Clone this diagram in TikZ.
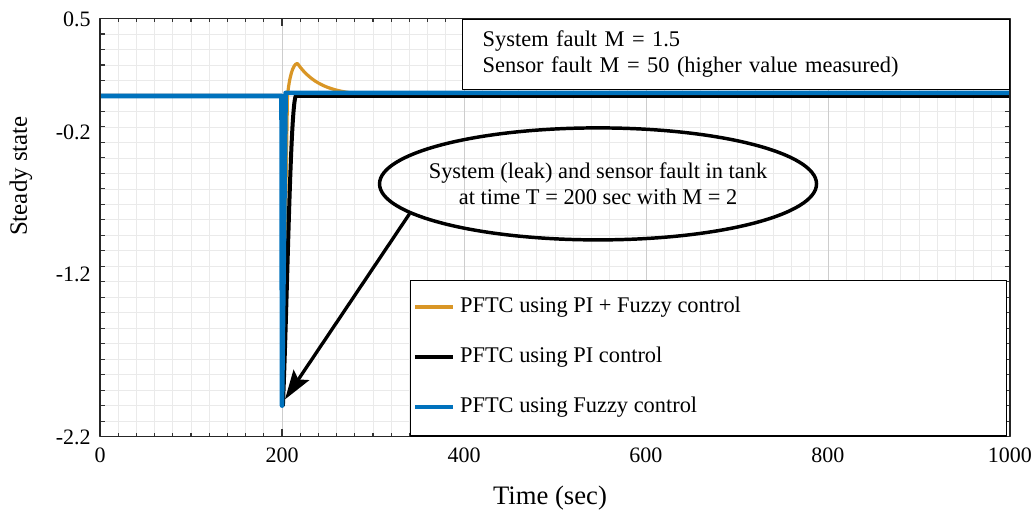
\documentclass[tikz,border=0pt]{standalone}
\usepackage{fontspec}
\setmainfont{Liberation Serif}
\usetikzlibrary{arrows.meta,shapes.geometric}
\definecolor{pforange}{RGB}{217,150,38}
\definecolor{pfblue}{RGB}{0,114,189}
\definecolor{minorgrid}{RGB}{234,234,234}
\definecolor{majorgrid}{RGB}{205,205,205}

\tikzset{
  ticklab/.style={font=\fontsize{16.5}{19}\selectfont,inner sep=0pt},
  notetext/.style={font=\fontsize{16.8}{19.5}\selectfont},
  legtext/.style={font=\fontsize{16.8}{19.5}\selectfont,text=black,anchor=west,inner xsep=4pt},
  frame/.style={line width=1.1pt,black!85},
  tick/.style={line width=0.8pt,black!80}
}

\begin{document}
\begin{tikzpicture}[x=0.6825pt,y=116.1pt,line join=round]
  \useasboundingbox (-109.9,-2.733) rectangle (1026.4,0.620);
  \draw[minorgrid,line width=0.5pt,xstep=20,ystep=0.1] (0,-2.2) grid (1000,0.5);
  \foreach \t in {200,400,600,800}
    \draw[majorgrid,line width=0.6pt] (\t,-2.2) -- (\t,0.5);
  \foreach \t in {20,40,...,980} {
    \draw[tick] (\t,-2.2) -- ++(0,0.025);
    \draw[tick] (\t,0.5) -- ++(0,-0.025);
  }
  \foreach \t in {200,400,600,800} {
    \draw[tick] (\t,-2.2) -- ++(0,0.05);
    \draw[tick] (\t,0.5) -- ++(0,-0.05);
  }
  \foreach \t in {-2.1,-2.0,...,0.45} {
    \draw[tick] (0,\t) -- ++(5,0);
    \draw[tick] (1000,\t) -- ++(-5,0);
  }

  \draw[pforange,line width=2.4pt] (0,0) -- (199.5,0) -- (200.5,-2.0) -- (206,0)
    .. controls (208,0.12) and (212,0.21) .. (217,0.21)
    -- plot[domain=217:310,samples=30,smooth] (\x,{0.21*exp(-(\x-217)/25)}) -- (1000,0);
  \draw[black,line width=3pt] (0,0) -- (200,0) -- (201,-2.0)
    .. controls (206,-1.3) and (209,-0.1) .. (215,0) -- (1000,0);
  \draw[pfblue,line width=3.5pt] (0,0) -- (199.5,0) -- (200,-2.0) -- (204,0.02) -- (1000,0.02);

  \draw[frame] (0,-2.2) rectangle (1000,0.5);

  \foreach \t in {0,200,400,600,800,1000}
    \node[ticklab] (xlab\t) at (\t,-2.319) {\t};
  \node[ticklab,anchor=east] (ylaba) at (-9.9,0.497) {0.5};
  \node[ticklab,anchor=east] (ylabb) at (-9.9,-0.233) {-0.2};
  \node[ticklab,anchor=east] (ylabc) at (-9.9,-1.150) {-1.2};
  \node[ticklab,anchor=east] (ylabd) at (-9.9,-2.203) {-2.2};
  \node[font=\fontsize{20}{24}\selectfont] (xtitle) at (494.5,-2.597) {Time (sec)};
  \node[rotate=90,font=\fontsize{18.7}{22}\selectfont] (ytitle) at (-86.8,-0.517) {Steady state};

  \node[draw,fill=white,line width=0.9pt,anchor=north east,notetext,align=left,
        text width=380pt,inner xsep=15pt,minimum height=52.5pt] (faultbox) at (1000,0.5)
    {System fault M = 1.5\\Sensor fault M = 50 (higher value measured)};

  \node[ellipse,draw,line width=2.6pt,minimum width=327.75pt,minimum height=84pt,inner sep=0pt]
    (faultellipse) at (547.3,-0.568) {};
  \node[notetext,align=center] (faulttext) at (faultellipse.center)
    {System (leak) and sensor fault in tank\\at time T = 200 sec with M = 2};
  \coordinate (arrowtip) at (203.3,-1.96);
  \draw[line width=2.5pt,-{Stealth[length=22pt,width=14pt,inset=4pt]}] (faultellipse.189) -- (arrowtip);

  \node[draw,fill=white,line width=0.9pt,anchor=south west,minimum width=447.2pt,
        minimum height=116.7pt,inner sep=0pt] (legendbox) at (340.7,-2.2) {};
  \draw[pforange,line width=2.6pt] (346,-1.363) -- (388,-1.363) node[legtext] (legorange) {PFTC using PI + Fuzzy control};
  \draw[black,line width=2.6pt] (346,-1.686) -- (388,-1.686) node[legtext] (legblack) {PFTC using PI control};
  \draw[pfblue,line width=2.6pt] (346,-2.009) -- (388,-2.009) node[legtext] (legblue) {PFTC using Fuzzy control};
\end{tikzpicture}
\end{document}
